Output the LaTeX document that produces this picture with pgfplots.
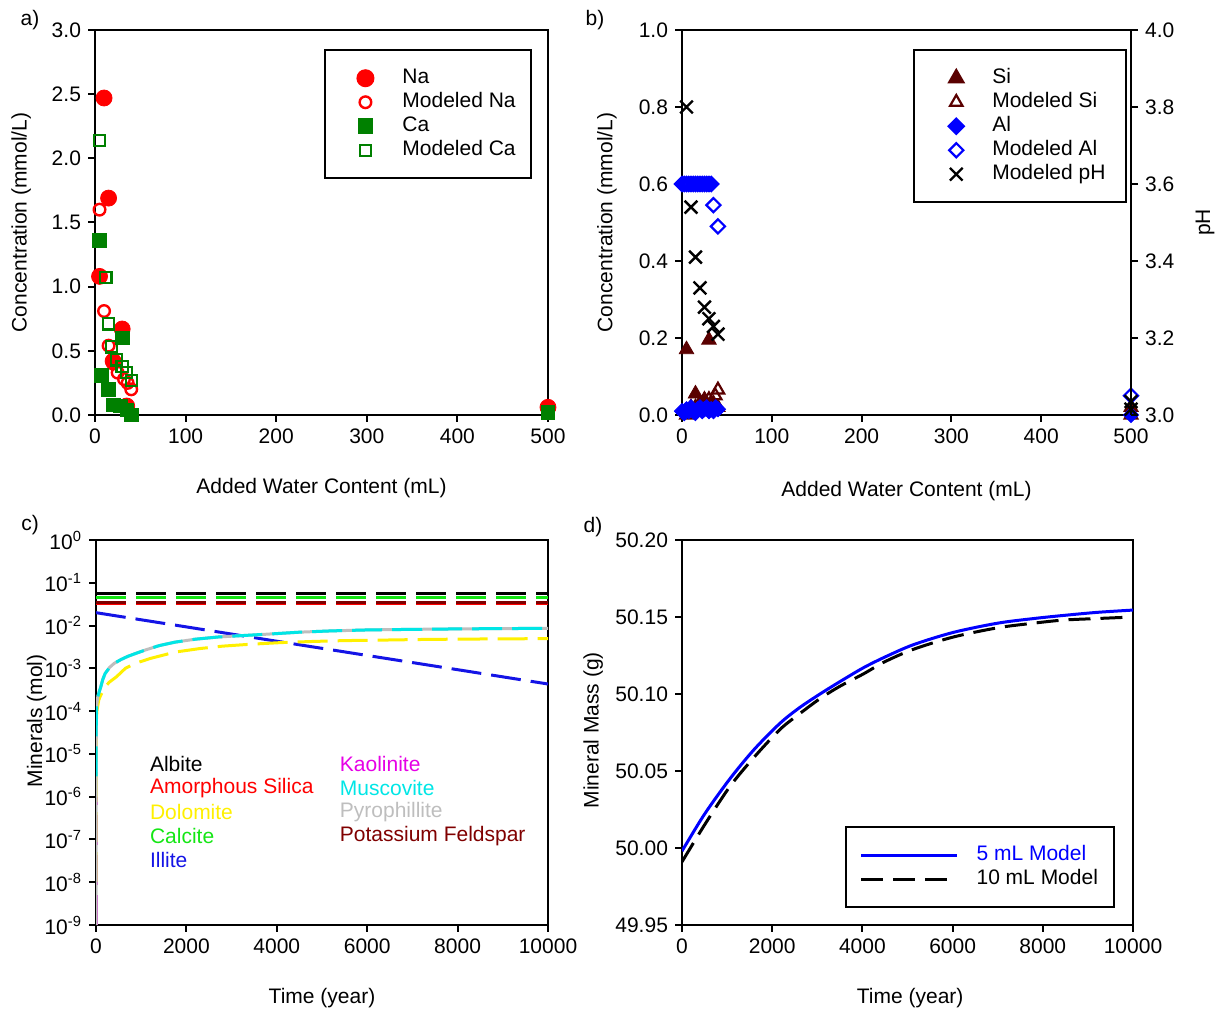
\documentclass[border=0pt]{standalone}
\usepackage{pgfplots}
\pgfplotsset{compat=1.18}
\usepackage{fontspec}
\setmainfont{Liberation Sans}
\definecolor{brn}{RGB}{90,0,0}
\definecolor{dgreen}{RGB}{0,128,0}
\definecolor{cgreen}{RGB}{20,230,20}
\definecolor{cyel}{RGB}{255,240,0}
\definecolor{cblue}{RGB}{20,20,230}
\definecolor{cmag}{RGB}{230,0,230}
\definecolor{ccyan}{RGB}{0,230,230}
\definecolor{cgrey}{RGB}{190,190,190}
\definecolor{cdred}{RGB}{128,0,0}
\begin{document}
\begin{tikzpicture}
\useasboundingbox (0pt,0pt) rectangle (609.5pt,507.5pt);
\pgfplotsset{
  every axis/.append style={
    font=\fontsize{10.5}{12.6}\selectfont,
    scale only axis, enlargelimits=false,
    axis line style={line width=1.2pt},
    tick align=outside, major tick length=3.5pt,
    tick style={line width=1pt, black},
    xtick pos=bottom, ytick pos=left,
    /pgf/number format/assume math mode=true,
    /pgf/number format/1000 sep={},
    scaled ticks=false,
  },
}
\node at (15pt,497.5pt) {\fontsize{10.5}{12.6}\selectfont a)};
\node at (297.5pt,497.5pt) {\fontsize{10.5}{12.6}\selectfont b)};
\node at (15pt,245pt) {\fontsize{10.5}{12.6}\selectfont c)};
\node at (296.5pt,244pt) {\fontsize{10.5}{12.6}\selectfont d)};

% ---------------- panel a
\begin{axis}[at={(47.5pt,300pt)}, anchor=south west, width=226.5pt, height=192.5pt,
  xmin=0, xmax=500, ymin=0, ymax=3, clip=false,
  xtick={0,100,200,300,400,500}, ytick={0,0.5,1,1.5,2,2.5,3},
  yticklabel style={/pgf/number format/fixed,/pgf/number format/fixed zerofill,/pgf/number format/precision=1},
  xlabel={Added Water Content (mL)}, ylabel={Concentration (mmol/L)},
  xlabel style={at={(axis description cs:0.5,-0.19)}, anchor=center},
  ylabel style={at={(axis description cs:-0.163,0.5)}, anchor=center},
  legend style={at={(rel axis cs:0.964,0.950)}, anchor=north east, draw=black, line width=1pt,
    inner xsep=6.5pt, inner ysep=8pt, row sep=0pt,
    nodes={text height=7.5pt, text depth=2.5pt, inner sep=1pt, anchor=west},
    /tikz/every odd column/.style={column sep=11.5pt}},
  legend cell align=left,
  legend image code/.code={\path[draw=none,fill=none] (-13.5pt,0pt) -- (6pt,0pt); \draw[#1] plot coordinates {(0pt,0pt)};}]
\addplot[only marks, mark=*, color=red, mark size=4pt] coordinates {
(5,1.08) (10,2.47) (15,1.69) (20,0.42) (30,0.67) (35,0.07) (500,0.06)};
\addlegendentry{Na}
\addplot[only marks, mark=o, color=red, mark size=2.9pt, mark options={line width=1.2pt}] coordinates {
(5,1.60) (10,0.81) (15,0.54) (20,0.40) (25,0.33) (32,0.28) (36,0.25) (40,0.20) (500,0.03)};
\addlegendentry{Modeled Na}
\addplot[only marks, mark=square*, color=dgreen, mark size=3.4pt] coordinates {
(5,1.36) (7,0.31) (15,0.20) (20,0.08) (28,0.07) (30,0.60) (35,0.04) (40,0.0) (500,0.02)};
\addlegendentry{Ca}
\addplot[only marks, mark=square, color=dgreen, mark size=2.8pt, mark options={line width=1.1pt}] coordinates {
(5,2.14) (12,1.07) (15,0.71) (18,0.53) (24,0.43) (30,0.38) (35,0.33) (40,0.27) (500,0.02)};
\addlegendentry{Modeled Ca}
\end{axis}

% ---------------- panel b (left axis)
\begin{axis}[at={(341pt,300pt)}, anchor=south west, width=224.5pt, height=192.5pt,
  xmin=0, xmax=500, ymin=0, ymax=1, clip=false,
  xtick={0,100,200,300,400,500}, ytick={0,0.2,0.4,0.6,0.8,1},
  yticklabel style={/pgf/number format/fixed,/pgf/number format/fixed zerofill,/pgf/number format/precision=1},
  xlabel={Added Water Content (mL)}, ylabel={Concentration (mmol/L)},
  xlabel style={at={(axis description cs:0.5,-0.197)}, anchor=center},
  ylabel style={at={(axis description cs:-0.167,0.5)}, anchor=center}]
\addplot[only marks, mark=triangle*, color=brn, mark size=4.2pt] coordinates {
(5,0.17) (10,0.02) (15,0.055) (20,0.03) (25,0.04) (30,0.195) (35,0.03) (40,0.02) (500,0.02)};
\addplot[only marks, mark=triangle, color=brn, mark size=3.6pt, mark options={line width=1.1pt}] coordinates {
(5,0.0) (10,0.01) (15,0.02) (20,0.03) (30,0.04) (37,0.05) (40,0.065) (500,0.0)};
\addplot[only marks, mark=square*, color=blue, mark size=2.7pt, mark options={rotate=45}] coordinates {
(0,0.01) (2.5,0.005) (5,0.015) (7.5,0.01) (10,0.02) (12.5,0.01) (15,0.005) (17.5,0.015) (20,0.02) (22.5,0.01) (25,0.015) (27.5,0.02) (30,0.01) (32.5,0.015) (35,0.01) (37.5,0.02) (40,0.015) (500,0.0)};
\addplot[only marks, mark=square, color=blue, mark size=2.5pt, mark options={rotate=45, line width=1.1pt}] coordinates {
(0,0.6) (2.5,0.6) (5,0.6) (7.5,0.6) (10,0.6) (12.5,0.6) (15,0.6) (17.5,0.6) (20,0.6) (22.5,0.6) (25,0.6) (27.5,0.6) (30,0.6) (32.5,0.6) (35,0.545) (40,0.49) (500,0.05)};
\end{axis}

% ---------------- panel b (right axis, pH)
\begin{axis}[at={(341pt,300pt)}, anchor=south west, width=224.5pt, height=192.5pt,
  xmin=0, xmax=500, ymin=3, ymax=4, clip=false,
  axis x line=none, axis y line*=right, ytick pos=right,
  ytick={3,3.2,3.4,3.6,3.8,4},
  yticklabel style={/pgf/number format/fixed,/pgf/number format/fixed zerofill,/pgf/number format/precision=1},
  ylabel={pH},
  ylabel style={at={(axis description cs:1.165,0.5)}, anchor=center},
  legend style={at={(rel axis cs:0.990,0.950)}, anchor=north east, draw=black, line width=1pt,
    inner xsep=9pt, inner ysep=8pt, row sep=0pt,
    nodes={text height=7.5pt, text depth=2.5pt, inner sep=1pt, anchor=west},
    /tikz/every odd column/.style={column sep=11pt}},
  legend cell align=left,
  legend image code/.code={\path[draw=none,fill=none] (-12pt,0pt) -- (6pt,0pt); \draw[#1] plot coordinates {(0pt,0pt)};}]
\addlegendimage{only marks, mark=triangle*, color=brn, mark size=4.2pt}
\addlegendentry{Si}
\addlegendimage{only marks, mark=triangle, color=brn, mark size=3.6pt, mark options={line width=1.1pt}}
\addlegendentry{Modeled Si}
\addlegendimage{only marks, mark=square*, color=blue, mark size=2.7pt, mark options={rotate=45}}
\addlegendentry{Al}
\addlegendimage{only marks, mark=square, color=blue, mark size=2.5pt, mark options={rotate=45, line width=1.1pt}}
\addlegendentry{Modeled Al}
\addplot[only marks, mark=x, color=black, mark size=4.5pt, mark options={line width=1.2pt}] coordinates {
(5,3.80) (10,3.54) (15,3.41) (20,3.33) (25,3.28) (30,3.25) (35,3.23) (40,3.21) (500,3.035) (500,3.015)};
\addlegendentry{Modeled pH}
\end{axis}

% ---------------- panel c
\begin{axis}[at={(48pt,45pt)}, anchor=south west, width=226pt, height=192.5pt,
  xmin=0, xmax=10000, ymode=log, ymin=1e-9, ymax=1, yminorticks=false,
  xtick={0,2000,4000,6000,8000,10000},
  ytick={1e-9,1e-8,1e-7,1e-6,1e-5,1e-4,1e-3,1e-2,1e-1,1},
  yticklabels={10\textsuperscript{-9},10\textsuperscript{-8},10\textsuperscript{-7},10\textsuperscript{-6},10\textsuperscript{-5},10\textsuperscript{-4},10\textsuperscript{-3},10\textsuperscript{-2},10\textsuperscript{-1},10\textsuperscript{0}},
  xlabel={Time (year)}, ylabel={Minerals (mol)},
  xlabel style={at={(axis description cs:0.5,-0.19)}, anchor=center},
  ylabel style={at={(axis description cs:-0.131,0.53)}, anchor=center}]
\addplot[color=cmag, line width=1.5pt, dash pattern=on 15pt off 5pt] coordinates {
(0,1e-9) (0,1e-8) (0,1e-7) (0,1e-6)};
\addplot[color=red, line width=1.5pt, dash pattern=on 15pt off 5pt] coordinates {
(0,0.033) (2000,0.033) (4000,0.033) (6000,0.033) (8000,0.033) (10000,0.033)};
\addplot[color=cdred, line width=1.5pt, dash pattern=on 15pt off 5pt] coordinates {
(0,0.035) (2000,0.035) (4000,0.035) (6000,0.035) (8000,0.035) (10000,0.035)};
\addplot[color=cgreen, line width=1.5pt, dash pattern=on 15pt off 5pt] coordinates {
(0,0.045) (2000,0.045) (4000,0.045) (6000,0.045) (8000,0.045) (10000,0.045)};
\addplot[color=black, line width=1.5pt, dash pattern=on 15pt off 5pt] coordinates {
(0,0.057) (2000,0.057) (4000,0.057) (6000,0.057) (8000,0.057) (10000,0.057)};
\addplot[color=cblue, line width=1.5pt, dash pattern=on 15pt off 5pt] coordinates {
(0,0.020) (2000,0.0093) (4000,0.0043) (6000,0.0020) (8000,0.00093) (10000,0.00043)};
\addplot[color=cyel, line width=1.5pt, dash pattern=on 15pt off 5pt] coordinates {
(0,1e-8) (2,1e-6) (5,5e-5) (20,1.0e-4) (60,1.8e-4) (100,2.3e-4) (200,3.7e-4) (300,4.8e-4) (450,6.3e-4) (650,1.0e-3) (863,1.3e-3) (1200,1.7e-3) (1750,2.4e-3) (2300,2.9e-3) (2800,3.3e-3) (3400,3.65e-3) (4100,4.0e-3) (4800,4.25e-3) (5500,4.45e-3) (6500,4.6e-3) (7345,4.75e-3) (8500,4.85e-3) (10000,4.95e-3)};
\addplot[color=cgrey, line width=1.5pt] coordinates {
(0,1e-9) (1,1e-7) (3,1e-5) (10,1.0e-4) (20,1.5e-4) (40,2.2e-4) (70,2.8e-4) (100,3.5e-4) (150,5.5e-4) (200,7.5e-4) (300,1.05e-3) (400,1.3e-3) (550,1.6e-3) (700,1.9e-3) (863,2.2e-3) (1100,2.7e-3) (1400,3.4e-3) (1750,4.1e-3) (2200,4.8e-3) (2700,5.4e-3) (3200,5.8e-3) (3800,6.3e-3) (4500,7.0e-3) (5200,7.5e-3) (6000,7.9e-3) (7000,8.15e-3) (8000,8.35e-3) (9000,8.5e-3) (10000,8.6e-3)};
\addplot[color=ccyan, line width=1.5pt, dash pattern=on 15pt off 5pt] coordinates {
(0,3e-6) (3,3e-5) (10,1.0e-4) (20,1.5e-4) (40,2.2e-4) (70,2.8e-4) (100,3.5e-4) (150,5.5e-4) (200,7.5e-4) (300,1.05e-3) (400,1.3e-3) (550,1.6e-3) (700,1.9e-3) (863,2.2e-3) (1100,2.7e-3) (1400,3.4e-3) (1750,4.1e-3) (2200,4.8e-3) (2700,5.4e-3) (3200,5.8e-3) (3800,6.3e-3) (4500,7.0e-3) (5200,7.5e-3) (6000,7.9e-3) (7000,8.15e-3) (8000,8.35e-3) (9000,8.5e-3) (10000,8.6e-3)};
\node[anchor=west, text=black] at (rel axis cs:0.104,0.418) {Albite};
\node[anchor=west, text=red] at (rel axis cs:0.104,0.356) {Amorphous Silica};
\node[anchor=west, text=cyel] at (rel axis cs:0.104,0.294) {Dolomite};
\node[anchor=west, text=cgreen] at (rel axis cs:0.104,0.231) {Calcite};
\node[anchor=west, text=cblue] at (rel axis cs:0.104,0.169) {Illite};
\node[anchor=west, text=cmag] at (rel axis cs:0.524,0.418) {Kaolinite};
\node[anchor=west, text=ccyan] at (rel axis cs:0.524,0.356) {Muscovite};
\node[anchor=west, text=cgrey] at (rel axis cs:0.524,0.294) {Pyrophillite};
\node[anchor=west, text=cdred] at (rel axis cs:0.524,0.231) {Potassium Feldspar};
\end{axis}

% ---------------- panel d
\begin{axis}[at={(341pt,45pt)}, anchor=south west, width=225.5pt, height=192.5pt,
  xmin=0, xmax=10000, ymin=49.95, ymax=50.2,
  xtick={0,2000,4000,6000,8000,10000},
  ytick={49.95,50,50.05,50.1,50.15,50.2},
  yticklabel style={/pgf/number format/fixed,/pgf/number format/fixed zerofill,/pgf/number format/precision=2},
  xlabel={Time (year)}, ylabel={Mineral Mass (g)},
  xlabel style={at={(axis description cs:0.506,-0.19)}, anchor=center},
  ylabel style={at={(axis description cs:-0.197,0.506)}, anchor=center},
  legend style={at={(rel axis cs:0.96,0.044)}, anchor=south east, draw=black, line width=1pt,
    inner xsep=7pt, inner ysep=8pt, row sep=0pt,
    nodes={text height=7.5pt, text depth=2.5pt, inner sep=1pt, anchor=west},
    /tikz/every odd column/.style={column sep=8pt}},
  legend cell align=left,
  legend image code/.code={\draw[#1] (0pt,0pt) -- (48pt,0pt);}]
\addplot[color=blue, line width=1.5pt, smooth] coordinates {
(0,49.998) (500,50.022) (1064,50.045) (1600,50.064) (2173,50.081) (2600,50.091) (3060,50.100) (3500,50.108) (4020,50.117) (4500,50.124) (5129,50.132) (6016,50.140) (7000,50.146) (7800,50.149) (8455,50.151) (9200,50.153) (10000,50.1545)};
\addlegendentry{\textcolor{blue}{5 mL Model}}
\addplot[color=black, line width=1.5pt, smooth, dash pattern=on 11pt off 5pt] coordinates {
(0,49.991) (500,50.015) (1064,50.040) (1600,50.059) (2173,50.077) (2600,50.087) (3060,50.097) (3500,50.105) (4020,50.113) (4500,50.121) (5129,50.129) (6016,50.137) (7000,50.143) (7800,50.146) (8455,50.148) (9200,50.149) (10000,50.150)};
\addlegendentry{10 mL Model}
\end{axis}
\end{tikzpicture}
\end{document}
